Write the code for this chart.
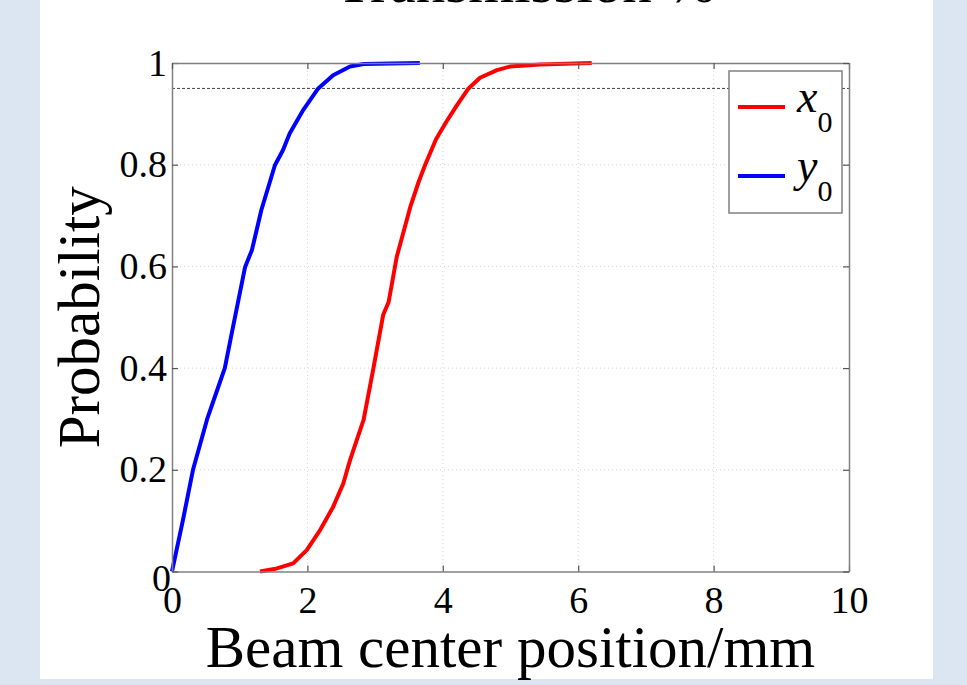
<!DOCTYPE html>
<html>
<head>
<meta charset="utf-8">
<script src="https://cdn.jsdelivr.net/npm/d3@7"></script>
<style>
  body { margin: 0; background: #dce6f2; }
  svg { display: block; }
</style>
</head>
<body>
<svg id="chart"></svg>
<script>
// readings (x in mm, probability)
var x0Pos = [1.30, 1.55, 1.79, 1.99, 2.19, 2.38, 2.53, 2.63, 2.73, 2.83, 2.97, 3.12, 3.20, 3.32, 3.52, 3.64, 3.74, 3.90, 4.05, 4.21, 4.38, 4.55, 4.80, 4.99, 5.44, 6.20];
var x0Prob = [0, 0.006, 0.016, 0.042, 0.082, 0.127, 0.173, 0.219, 0.259, 0.298, 0.396, 0.505, 0.530, 0.619, 0.717, 0.765, 0.800, 0.850, 0.884, 0.917, 0.950, 0.971, 0.986, 0.993, 0.997, 1.0];

var y0Pos = [0, 0.16, 0.31, 0.52, 0.65, 0.78, 0.90, 1.08, 1.18, 1.32, 1.52, 1.64, 1.74, 1.94, 2.16, 2.38, 2.63, 2.83, 3.66];
var y0Prob = [0, 0.100, 0.200, 0.300, 0.350, 0.400, 0.480, 0.599, 0.632, 0.711, 0.799, 0.829, 0.862, 0.908, 0.950, 0.976, 0.993, 0.998, 1.0];

var xTicks = [0, 2, 4, 6, 8, 10];
var yTicks = [0, 0.2, 0.4, 0.6, 0.8, 1];
var threshold = 0.95;

var serif = "'Liberation Serif', 'Times New Roman', serif";

var dimensions = {
  width: 967,
  height: 685,
  margin: {
    top: 63,
    right: 118,
    bottom: 113.5,
    left: 172,
  },
};
dimensions.boundedWidth =
  dimensions.width - dimensions.margin.left - dimensions.margin.right;
dimensions.boundedHeight =
  dimensions.height - dimensions.margin.top - dimensions.margin.bottom;

var svg = d3
  .select("#chart")
  .attr("width", dimensions.width)
  .attr("height", dimensions.height);

// white figure panel
svg
  .append("rect")
  .attr("x", 40)
  .attr("y", 0)
  .attr("width", 893)
  .attr("height", 679)
  .attr("fill", "#ffffff");

// title, mostly cut off at the top
svg
  .append("text")
  .attr("x", 336)
  .attr("y", 2)
  .attr("font-family", serif)
  .attr("font-size", 59)
  .attr("fill", "#000")
  .text("Transmission %");

var xScale = d3
  .scaleLinear()
  .domain([0, 10])
  .range([0, dimensions.boundedWidth]);

var yScale = d3
  .scaleLinear()
  .domain([0, 1])
  .range([dimensions.boundedHeight, 0]);

var bounds = svg
  .append("g")
  .attr(
    "transform",
    "translate(" + dimensions.margin.left + "," + dimensions.margin.top + ")"
  );

// dotted grid
bounds
  .selectAll(".gridx")
  .data(xTicks.slice(1, -1))
  .enter()
  .append("line")
  .attr("x1", (d) => xScale(d))
  .attr("x2", (d) => xScale(d))
  .attr("y1", 0)
  .attr("y2", dimensions.boundedHeight)
  .attr("stroke", "#d4d4d4")
  .attr("stroke-dasharray", "1,3");

bounds
  .selectAll(".gridy")
  .data(yTicks.slice(1, -1))
  .enter()
  .append("line")
  .attr("x1", 0)
  .attr("x2", dimensions.boundedWidth)
  .attr("y1", (d) => yScale(d))
  .attr("y2", (d) => yScale(d))
  .attr("stroke", "#d4d4d4")
  .attr("stroke-dasharray", "1,3");

// 95% line
bounds
  .append("line")
  .attr("x1", 0)
  .attr("x2", dimensions.boundedWidth)
  .attr("y1", yScale(threshold))
  .attr("y2", yScale(threshold))
  .attr("stroke", "#444")
  .attr("stroke-width", 1)
  .attr("stroke-dasharray", "3,2");

var line = d3
  .line()
  .x((d) => xScale(d[0]))
  .y((d) => yScale(d[1]));

var x0Data = x0Pos.map((v, i) => [v, x0Prob[i]]);
var y0Data = y0Pos.map((v, i) => [v, y0Prob[i]]);

bounds
  .append("path")
  .datum(x0Data)
  .attr("d", line)
  .attr("fill", "none")
  .attr("stroke", "#ff0000")
  .attr("stroke-width", 4)
  .attr("stroke-linejoin", "round");

bounds
  .append("path")
  .datum(y0Data)
  .attr("d", line)
  .attr("fill", "none")
  .attr("stroke", "#0000ff")
  .attr("stroke-width", 4)
  .attr("stroke-linejoin", "round");

// axes with inward ticks on all four sides
function styleAxis(g) {
  g.select(".domain").attr("stroke", "#808080").attr("stroke-width", 1.5);
  g.selectAll(".tick line").attr("stroke", "#555").attr("stroke-width", 1.2);
  g.selectAll(".tick text")
    .attr("font-family", serif)
    .attr("font-size", 38)
    .attr("fill", "#000");
}

var xAxis = d3
  .axisBottom(xScale)
  .tickValues(xTicks)
  .tickSizeInner(-6)
  .tickSizeOuter(0)
  .tickPadding(15)
  .tickFormat(d3.format("d"));

bounds
  .append("g")
  .attr("transform", "translate(0," + dimensions.boundedHeight + ")")
  .call(xAxis)
  .call(styleAxis);

var yAxis = d3
  .axisLeft(yScale)
  .tickValues(yTicks)
  .tickSizeInner(-6)
  .tickSizeOuter(0)
  .tickPadding(5)
  .tickFormat((d) => (d === 0 || d === 1 ? d3.format("d")(d) : d3.format(".1f")(d)));

var yAxisG = bounds.append("g").call(yAxis).call(styleAxis);

// matlab puts the zero label a little lower, against the axis
yAxisG
  .selectAll(".tick text")
  .filter((d) => d === 0)
  .attr("x", -1)
  .attr("dy", "0.5em");

bounds
  .append("g")
  .call(
    d3
      .axisTop(xScale)
      .tickValues(xTicks)
      .tickSizeInner(-6)
      .tickSizeOuter(0)
      .tickFormat("")
  )
  .call(styleAxis);

bounds
  .append("g")
  .attr("transform", "translate(" + dimensions.boundedWidth + ",0)")
  .call(
    d3
      .axisRight(yScale)
      .tickValues(yTicks)
      .tickSizeInner(-6)
      .tickSizeOuter(0)
      .tickFormat("")
  )
  .call(styleAxis);

// axis labels
svg
  .append("text")
  .attr("x", dimensions.margin.left + dimensions.boundedWidth / 2)
  .attr("y", 667)
  .attr("text-anchor", "middle")
  .attr("font-family", serif)
  .attr("font-size", 59)
  .attr("fill", "#000")
  .text("Beam center position/mm");

svg
  .append("text")
  .attr(
    "transform",
    "translate(99," +
      (dimensions.margin.top + dimensions.boundedHeight / 2) +
      ") rotate(-90)"
  )
  .attr("text-anchor", "middle")
  .attr("font-family", serif)
  .attr("font-size", 59)
  .attr("fill", "#000")
  .text("Probability");

// legend
var legend = svg.append("g").attr("transform", "translate(729,71)");

legend
  .append("rect")
  .attr("width", 113)
  .attr("height", 142)
  .attr("fill", "#fff")
  .attr("stroke", "#808080")
  .attr("stroke-width", 1.5);

var legendItems = [
  { name: "x", color: "#ff0000" },
  { name: "y", color: "#0000ff" },
];

var item = legend
  .selectAll(".item")
  .data(legendItems)
  .enter()
  .append("g")
  .attr("transform", (d, i) => "translate(0," + (36 + i * 69) + ")");

item
  .append("line")
  .attr("x1", 9)
  .attr("x2", 56)
  .attr("stroke", (d) => d.color)
  .attr("stroke-width", 4);

var label = item
  .append("text")
  .attr("x", 68)
  .attr("y", 5)
  .attr("font-family", serif)
  .attr("font-size", 46)
  .attr("fill", "#000");

label
  .append("tspan")
  .attr("font-style", "italic")
  .text((d) => d.name);

label
  .append("tspan")
  .attr("font-size", 30)
  .attr("dy", 20)
  .text("0");
</script>
</body>
</html>
